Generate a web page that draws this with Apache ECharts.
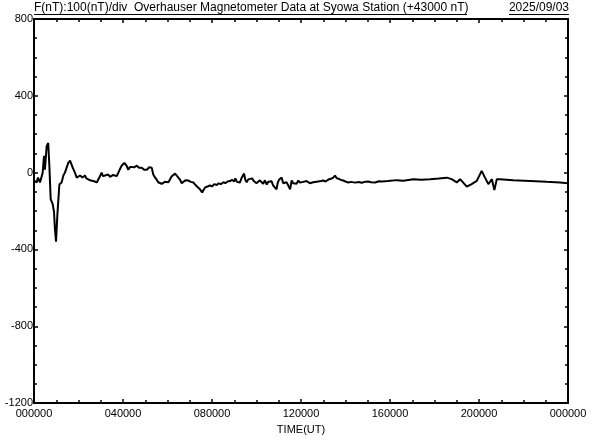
<!DOCTYPE html>
<html>
<head>
<meta charset="utf-8">
<script src="https://cdn.jsdelivr.net/npm/echarts@6/dist/echarts.min.js"></script>
<style>html,body{margin:0;padding:0;background:#fff}#c{width:592px;height:440px}</style>
</head>
<body>
<div id="c"></div>
<script>
// Time in hours UT (0-24) and field values F - 43000 (nT)
const hours = [0.00,0.12,0.18,0.27,0.39,0.45,0.49,0.57,0.64,0.69,0.75,0.84,0.90,0.94,0.99,1.05,1.14,1.24,1.32,1.39,1.54,1.62,1.74,1.84,1.92,
  2.07,2.18,2.29,2.36,2.44,2.52,2.59,2.70,2.82,2.89,2.96,3.04,3.10,3.19,3.26,3.34,3.42,3.49,3.56,3.64,3.72,3.79,3.87,3.94,4.06,4.16,4.24,4.32,4.39,4.50,4.62,4.72,4.84,4.95,5.07,5.18,5.29,5.36,5.44,5.51,5.58,5.66,5.74,5.81,5.88,5.96,6.04,6.11,6.18,6.26,6.34,6.41,6.48,6.56,6.64,6.71,6.80,6.93,7.05,7.16,7.24,7.35,
  7.46,7.56,7.62,7.69,7.80,7.91,8.00,8.10,8.21,8.30,8.40,8.51,8.60,8.70,8.81,8.90,9.00,9.05,9.12,9.18,9.25,9.33,9.40,9.44,9.50,9.56,9.63,9.71,9.80,9.88,9.93,10.00,10.08,10.15,10.23,10.30,10.38,10.46,10.53,10.61,10.68,10.75,10.82,10.90,10.96,11.02,11.08,11.13,11.20,11.28,11.35,11.43,11.51,11.58,
  11.65,11.73,11.80,11.88,11.95,12.03,12.10,12.18,12.25,12.33,12.40,12.48,12.55,12.63,12.70,12.78,12.90,13.00,13.10,13.23,13.35,13.45,13.53,13.60,13.68,13.80,13.90,14.00,14.13,14.25,14.43,14.60,14.73,14.90,15.02,15.15,15.33,15.50,15.63,15.90,16.30,16.60,17.05,17.40,17.80,18.20,18.55,18.77,
  19.00,19.15,19.45,19.67,19.90,20.12,20.27,20.42,20.58,20.69,20.80,20.94,21.54,22.29,23.04,23.64,24.00];
const values = [-41,-51,-26,-51,0,87,15,138,154,36,-138,-164,-205,-292,-359,-220,-62,-51,-15,0,51,62,26,0,-26,
  -15,-25,-15,-30,-26,-40,-36,-45,-51,-41,-20,0,-18,-15,-5,-10,-22,-26,-12,-10,-18,0,20,36,51,36,15,30,36,28,36,25,26,15,15,28,26,-10,-25,-36,-50,-51,-58,-62,-48,-41,-50,-36,-20,-10,-5,0,-25,-36,-55,-51,-40,-41,-48,-51,-62,-75,
  -87,-103,-90,-77,-72,-67,-72,-60,-64,-56,-60,-50,-55,-46,-44,-38,-45,-30,-48,-40,-52,-28,-20,-5,-38,-50,-35,-45,-30,-44,-36,-55,-62,-40,-45,-58,-40,-62,-48,-55,-45,-67,-60,-87,-50,-36,-30,-26,-55,-62,-50,-67,-87,-41,
  -55,-48,-58,-41,-52,-62,-48,-55,-44,-41,-55,-62,-50,-54,-47,-52,-44,-41,-46,-36,-32,-26,-15,-28,-36,-38,-41,-46,-51,-48,-52,-49,-53,-47,-46,-50,-51,-45,-46,-44,-39,-42,-34,-37,-34,-30,-26,-34,
  -51,-34,-73,-60,-43,9,-26,-60,-34,-91,-34,-34,-39,-43,-48,-51,-55];
const xTickLabels = ['000000','040000','080000','120000','160000','200000','000000'];
const yTickValues = [-1200,-800,-400,0,400,800];
const titleText = 'F(nT):100(nT)/div  Overhauser Magnetometer Data at Syowa Station (+43000 nT)';
const dateText = '2025/09/03';
const xAxisName = 'TIME(UT)';

const FONT = '"Liberation Sans", Arial, sans-serif';
const chart = echarts.init(document.getElementById('c'), null, {renderer: 'canvas'});
const axisCommon = {
  axisLine: {show: true, onZero: false, lineStyle: {color: '#000', width: 2}},
  axisTick: {show: true, inside: true, length: 4, lineStyle: {color: '#000', width: 1.5}},
  minorTick: {show: true, splitNumber: 4, length: 3, lineStyle: {color: '#000', width: 1.5}},
  splitLine: {show: false}
};
chart.setOption({
  animation: false,
  backgroundColor: '#fff',
  grid: {left: 34, right: 24, top: 19, bottom: 31, containLabel: false},
  xAxis: [
    Object.assign({}, axisCommon, {
      type: 'value', min: 0, max: 24, interval: 4, position: 'bottom',
      axisLabel: {show: true, margin: 5, color: '#000', fontSize: 11, fontFamily: FONT,
        formatter: v => xTickLabels[Math.round(v / 4)]},
      name: xAxisName, nameLocation: 'middle', nameGap: 18,
      nameTextStyle: {color: '#000', fontSize: 11, fontFamily: FONT}
    }),
    Object.assign({}, axisCommon, {
      type: 'value', min: 0, max: 24, interval: 4, position: 'top',
      axisLabel: {show: false}
    })
  ],
  yAxis: [
    Object.assign({}, axisCommon, {
      type: 'value', min: -1200, max: 800, interval: 400, position: 'left',
      axisLabel: {show: true, margin: 1, color: '#000', fontSize: 11, fontFamily: FONT,
        formatter: v => yTickValues.indexOf(v) >= 0 ? String(v) : ''}
    }),
    Object.assign({}, axisCommon, {
      type: 'value', min: -1200, max: 800, interval: 400, position: 'right',
      axisLabel: {show: false}
    })
  ],
  graphic: [
    {type: 'text', left: 34, top: 2, style: {text: titleText, fill: '#000', fontSize: 12, fontFamily: FONT}},
    {type: 'line', shape: {x1: 34, y1: 14.5, x2: 467, y2: 14.5}, style: {stroke: '#000', lineWidth: 1}},
    {type: 'text', right: 23, top: 2, style: {text: dateText, fill: '#000', fontSize: 12, fontFamily: FONT}},
    {type: 'line', shape: {x1: 509, y1: 14.5, x2: 569, y2: 14.5}, style: {stroke: '#000', lineWidth: 1}}
  ],
  series: [{
    type: 'line', xAxisIndex: 0, yAxisIndex: 0,
    data: hours.map((h, i) => [h, values[i]]),
    showSymbol: false, symbol: 'none',
    lineStyle: {color: '#000', width: 2},
    clip: true
  }]
});
</script>
</body>
</html>
